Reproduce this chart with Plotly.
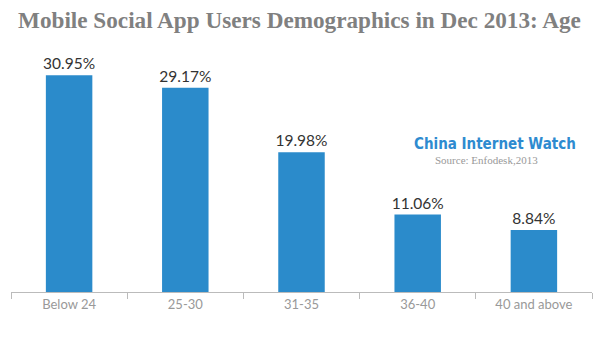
import plotly.graph_objects as go

categories = ["Below 24", "25-30", "31-35", "36-40", "40 and above"]
values = [30.95, 29.17, 19.98, 11.06, 8.84]
labels = [f"{v:.2f}%" for v in values]

fig = go.Figure(go.Bar(
    x=categories, y=values, text=labels, textposition="outside",
    textfont=dict(family="Lato, sans-serif", size=15.5, color="#333333"),
    marker=dict(color="#2b8bcb", line=dict(width=0)),
    width=0.4, cliponaxis=False, constraintext="none",
))

fig.update_layout(
    width=600, height=345,
    margin=dict(l=11, r=8, t=47, b=53),
    paper_bgcolor="white", plot_bgcolor="white",
    showlegend=False,
    title=dict(text="<b>Mobile Social App Users Demographics in Dec 2013: Age</b>",
               x=0.03, xanchor="left", y=0.942, yanchor="middle",
               font=dict(family="Liberation Serif, serif", size=23.2, color="#808080")),
    xaxis=dict(type="category", range=[-0.5, 4.5], showline=True, linecolor="#bbbbbb",
               linewidth=1, ticks="outside", tickson="boundaries", ticklen=6,
               tickcolor="#bbbbbb", showgrid=False,
               tickfont=dict(family="Lato, sans-serif", size=13, color="#999999")),
    yaxis=dict(range=[0, 35], visible=False, showgrid=False, zeroline=False),
    annotations=[
        dict(text="<b>China Internet Watch</b>", xref="paper", yref="paper", x=0.833,
             y=0.604, xanchor="center", yanchor="middle", showarrow=False,
             font=dict(family="DejaVu Sans Condensed, Liberation Sans, sans-serif", size=15,
                       color="#2e8bd0")),
        dict(text="Source: Enfodesk,2013", xref="paper", yref="paper", x=0.819,
             y=0.539, xanchor="center", yanchor="middle", showarrow=False,
             font=dict(family="Liberation Serif, serif", size=11, color="#999999")),
    ],
)

fig.write_html("out.html")
